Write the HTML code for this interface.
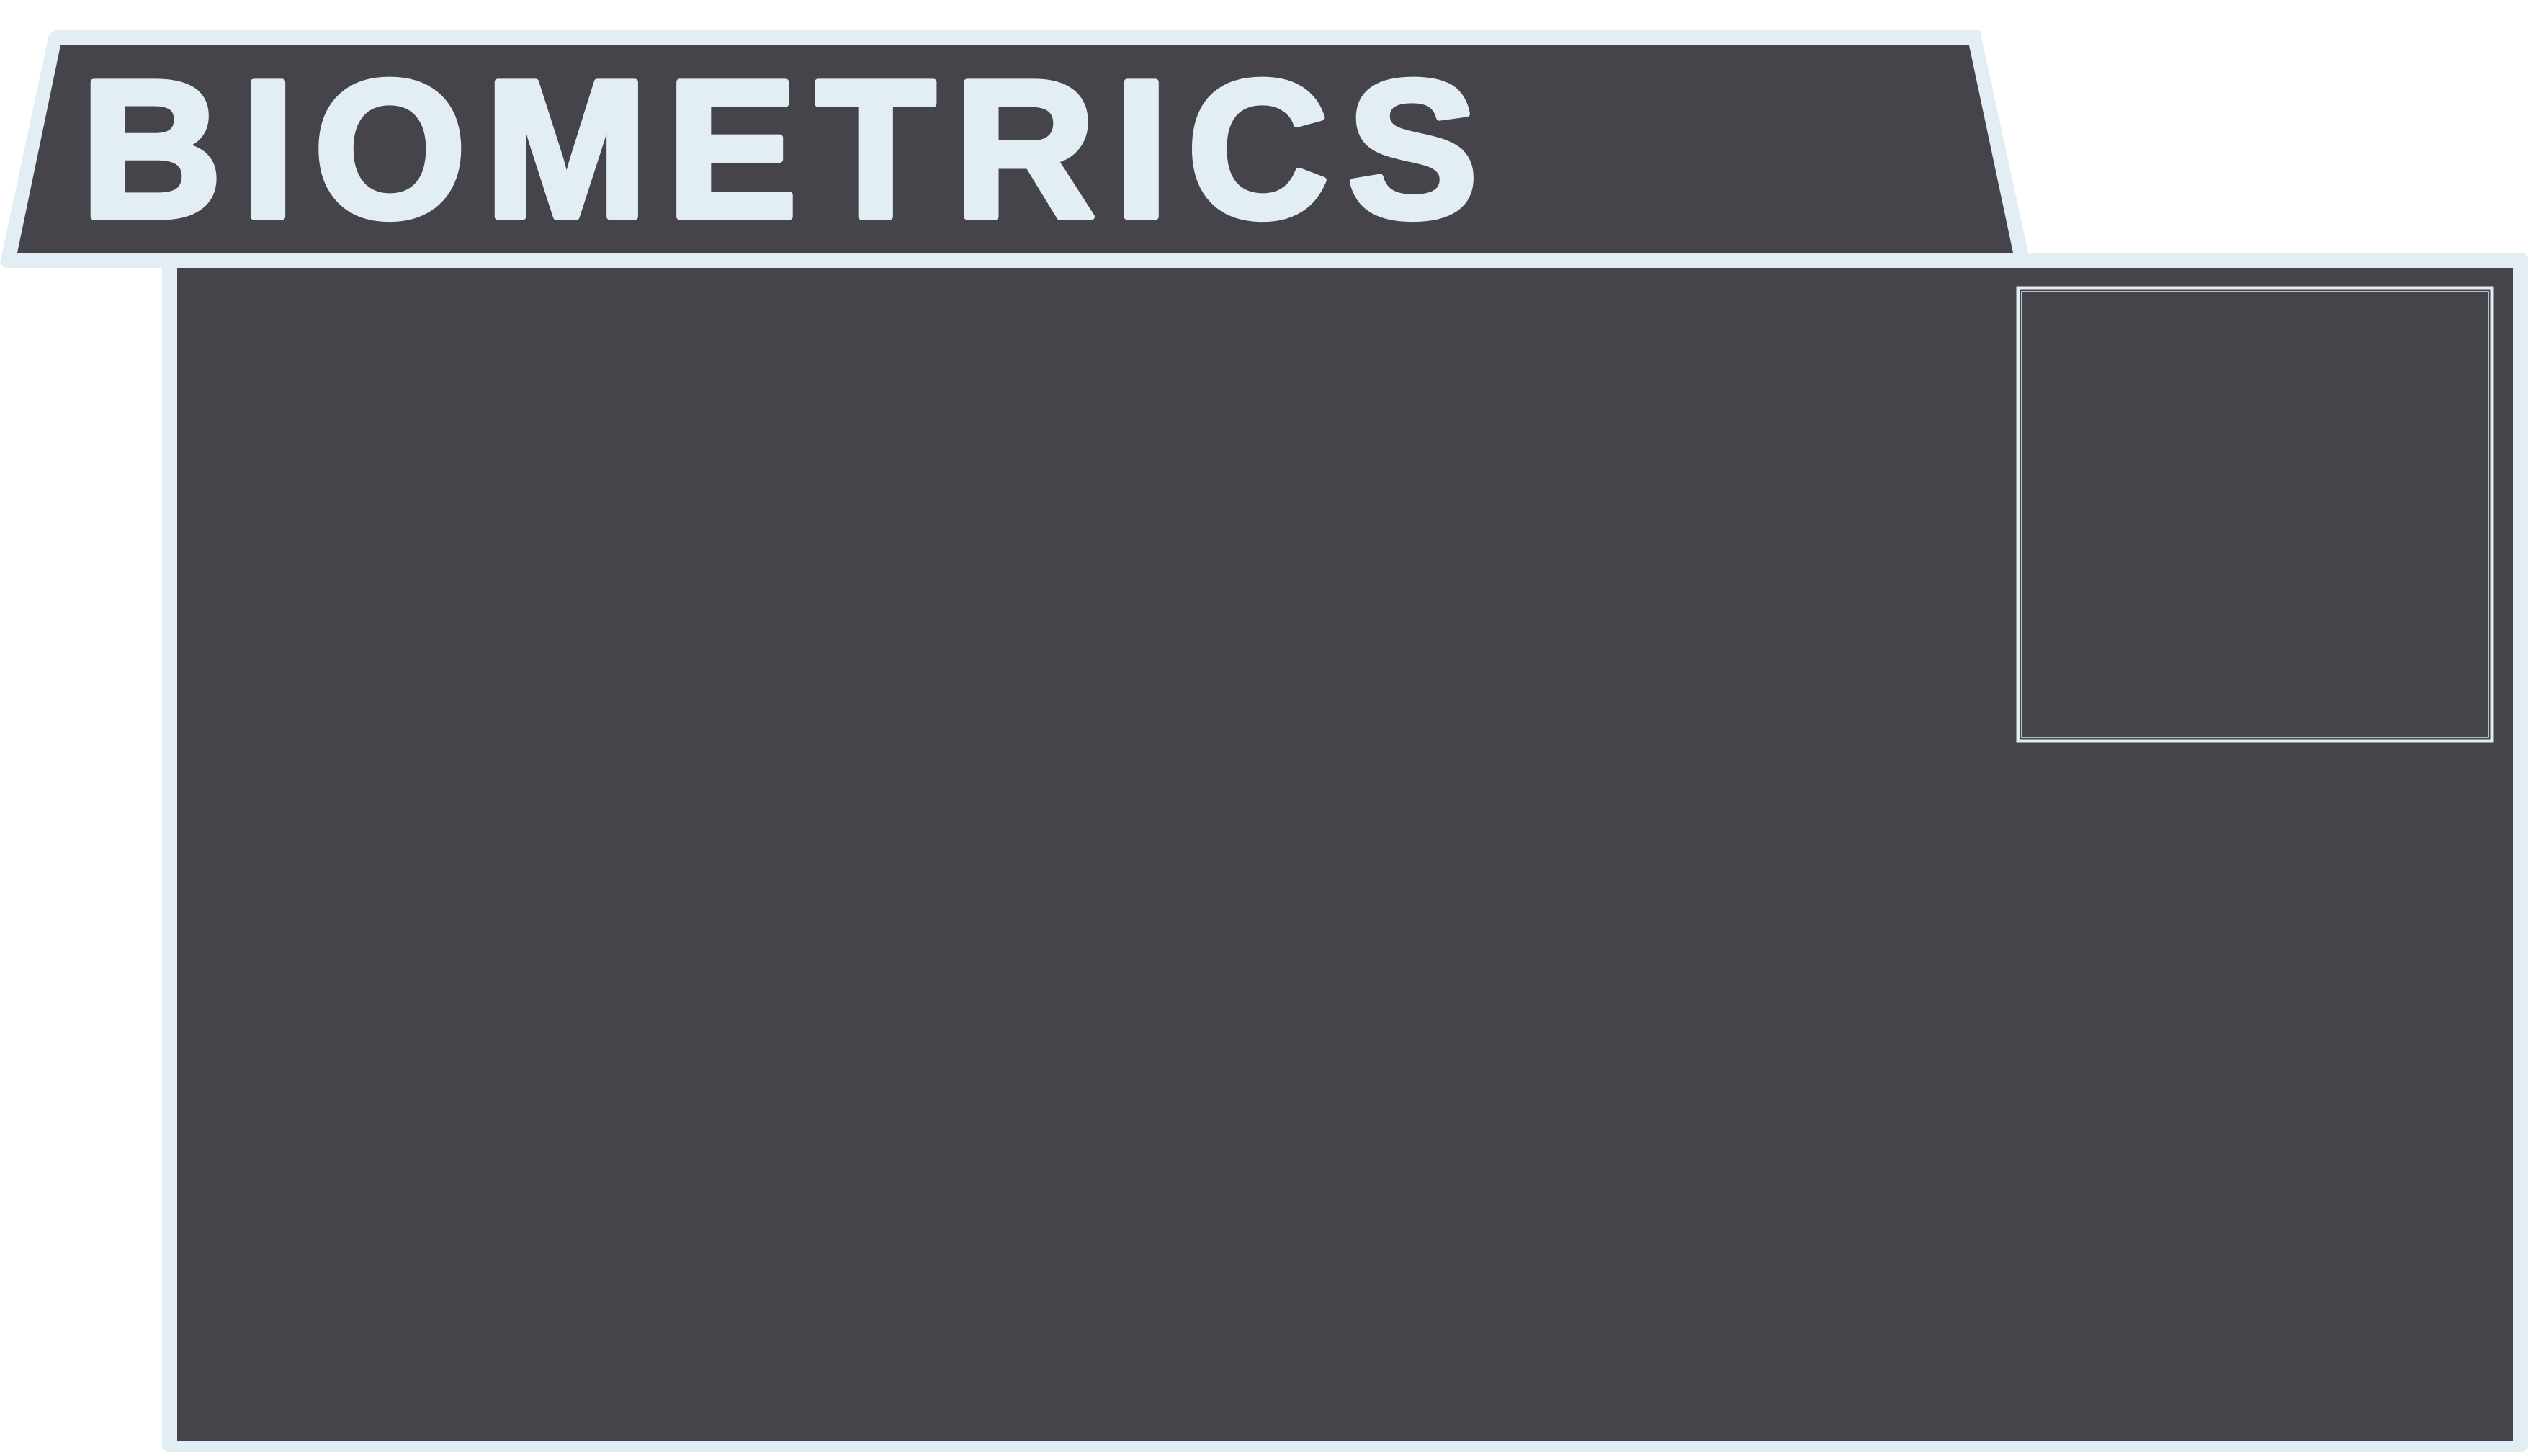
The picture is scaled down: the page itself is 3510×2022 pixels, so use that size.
<!DOCTYPE html>
<html><head><meta charset="utf-8"><style>
html,body{margin:0;padding:0;background:#fff;}
svg{display:block;}
</style></head><body>
<svg width="3510" height="2022" viewBox="0 0 3510 2022" xmlns="http://www.w3.org/2000/svg">
  <g>
    <polygon points="76,42 2749,42 2816,351 3505,351 3510,358 3510,2010 3503,2017 232,2017 225,2010 225,372 6,372 0,365 68,48" fill="#e2edf4"/>
    <polygon points="84,63 2734,63 2795,351 24,351" fill="#45444a"/>
    <rect x="246" y="372" width="3243" height="1629" fill="#45444a"/>
  </g>
  <text x="112" y="301" font-family="'Liberation Sans', Arial, sans-serif" font-weight="bold" font-size="272" fill="#e2edf4" stroke="#e2edf4" stroke-width="9" stroke-linejoin="round" textLength="1940" lengthAdjust="spacing">BIOMETRICS</text>
  <g>
    <rect x="2802" y="400" width="658" height="629" fill="none" stroke="#e2edf4" stroke-width="5"/>
    <rect x="2807" y="405" width="648" height="619" fill="none" stroke="#e2edf4" stroke-width="1.5"/>
  </g>
</svg>
</body></html>
